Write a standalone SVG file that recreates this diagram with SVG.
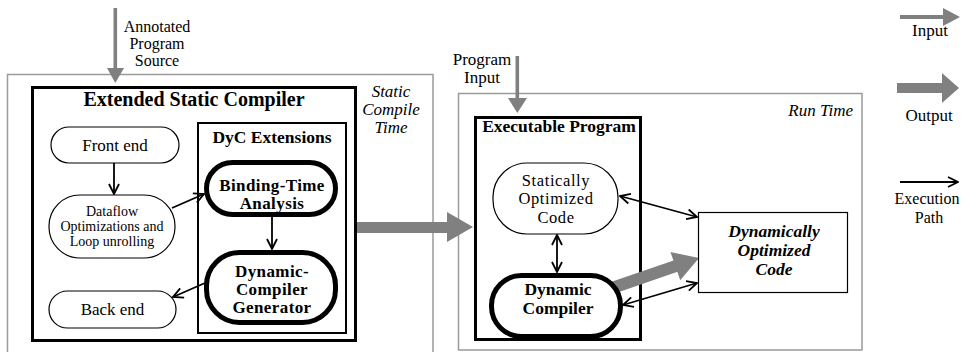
<svg xmlns="http://www.w3.org/2000/svg" width="966" height="352" viewBox="0 0 966 352">
  <defs>
    <marker id="open" viewBox="0 0 12 12" refX="11" refY="6" markerWidth="12" markerHeight="12" markerUnits="userSpaceOnUse" orient="auto-start-reverse">
      <path d="M1,1 L11,6 L1,11" fill="none" stroke="#000" stroke-width="1.8"/>
    </marker>
    <style>
      text { font-family: "Liberation Serif", "Times New Roman", serif; fill: #000; }
      .zone { fill: none; stroke: #9a9a9a; stroke-width: 1.5; }
      .frame { fill: #fff; stroke: #000; stroke-width: 3; }
      .frame2 { fill: #fff; stroke: #000; stroke-width: 2; }
      .pill { fill: #fff; stroke: #000; stroke-width: 1.2; }
      .pillB { fill: #fff; stroke: #000; stroke-width: 5; }
      .box { fill: #fff; stroke: #000; stroke-width: 1.2; }
      .flow { fill: none; stroke: #000; stroke-width: 1.8; marker-end: url(#open); }
      .flow2 { fill: none; stroke: #000; stroke-width: 1.8; marker-start: url(#open); marker-end: url(#open); }
      .gray { fill: #808080; }
      .t17 { font-size: 17px; }
      .t16 { font-size: 16px; }
      .t14 { font-size: 14px; }
      .it { font-style: italic; font-size: 17px; }
      .title { font-weight: bold; font-size: 17.5px; }
      .spaced { font-weight: bold; font-size: 17px; letter-spacing: 0.4px; }
      .spacedN { font-size: 16.5px; letter-spacing: 0.6px; }
    </style>
  </defs>

  <!-- time zones -->
  <g id="static-zone">
    <rect class="zone" x="7.5" y="74.5" width="425.5" height="290"/>
    <text class="it" text-anchor="middle" x="391" y="97">Static</text>
    <text class="it" text-anchor="middle" x="391" y="115">Compile</text>
    <text class="it" text-anchor="middle" x="391" y="133">Time</text>
  </g>
  <g id="run-zone">
    <rect class="zone" x="458.5" y="93.5" width="403.5" height="256.5"/>
    <text class="it" text-anchor="end" x="853" y="116">Run Time</text>
  </g>

  <!-- inputs -->
  <g id="source-input">
    <rect class="gray" x="113.5" y="8" width="3.6" height="61"/>
    <polygon class="gray" points="107,68 124,68 115.3,83"/>
    <text class="t16" text-anchor="middle" x="157" y="32">Annotated</text>
    <text class="t16" text-anchor="middle" x="157" y="49">Program</text>
    <text class="t16" text-anchor="middle" x="157" y="66">Source</text>
  </g>
  <g id="program-input">
    <rect class="gray" x="515.5" y="56" width="3.6" height="43"/>
    <polygon class="gray" points="508,98 527,98 517.3,113"/>
    <text class="t17" text-anchor="middle" x="482" y="65">Program</text>
    <text class="t17" text-anchor="middle" x="482" y="83">Input</text>
  </g>

  <!-- compiler -->
  <g id="extended-static-compiler">
    <rect class="frame" x="32.5" y="87.5" width="323" height="253"/>
    <text text-anchor="middle" x="194" y="106" font-weight="bold" font-size="20">Extended Static Compiler</text>
  </g>
  <g id="dyc-extensions">
    <rect class="frame2" x="198" y="123" width="148" height="210"/>
    <text class="title" text-anchor="middle" x="272" y="143">DyC Extensions</text>
  </g>
  <g id="front-end">
    <rect class="pill" x="51" y="127" width="128" height="36" rx="18"/>
    <text class="t17" text-anchor="middle" x="115" y="151" font-size="17.5">Front end</text>
  </g>
  <g id="dataflow">
    <rect class="pill" x="49" y="195" width="126" height="63" rx="31"/>
    <text class="t14" text-anchor="middle" x="112" y="216">Dataflow</text>
    <text class="t14" text-anchor="middle" x="112" y="231">Optimizations and</text>
    <text class="t14" text-anchor="middle" x="112" y="246">Loop unrolling</text>
  </g>
  <g id="back-end">
    <rect class="pill" x="49" y="291" width="127" height="37" rx="18.5"/>
    <text class="t17" text-anchor="middle" x="112.5" y="315" font-size="17.5">Back end</text>
  </g>
  <g id="binding-time">
    <rect class="pillB" x="206.5" y="162.5" width="129" height="52" rx="26"/>
    <text class="spaced" text-anchor="middle" x="272" y="191">Binding-Time</text>
    <text class="spaced" text-anchor="middle" x="272" y="209">Analysis</text>
  </g>
  <g id="compiler-generator">
    <rect class="pillB" x="206.5" y="252.5" width="129" height="70" rx="33"/>
    <text class="spaced" text-anchor="middle" x="272" y="277">Dynamic-</text>
    <text class="spaced" text-anchor="middle" x="272" y="295">Compiler</text>
    <text class="spaced" text-anchor="middle" x="272" y="313">Generator</text>
  </g>

  <!-- program at run time -->
  <g id="executable-program">
    <rect class="frame" x="475.5" y="117.5" width="165" height="222"/>
    <text class="title" text-anchor="middle" x="559" y="132">Executable Program</text>
  </g>
  <g id="dynamic-output">
    <g transform="translate(612,288) rotate(-19)">
      <rect class="gray" x="0" y="-6" width="68" height="12"/>
      <polygon class="gray" points="67,-15 67,15 92,0"/>
    </g>
  </g>
  <g id="statically-optimized">
    <rect class="pill" x="493" y="163" width="125" height="71" rx="34"/>
    <text class="spacedN" text-anchor="middle" x="556" y="186">Statically</text>
    <text class="spacedN" text-anchor="middle" x="556" y="204">Optimized</text>
    <text class="spacedN" text-anchor="middle" x="556" y="223">Code</text>
  </g>
  <g id="dynamic-compiler">
    <rect class="pillB" x="491.5" y="275.5" width="129" height="61" rx="30"/>
    <text class="title" text-anchor="middle" x="558" y="295">Dynamic</text>
    <text class="title" text-anchor="middle" x="558" y="314">Compiler</text>
  </g>
  <g id="dynamically-optimized">
    <rect class="box" x="698.5" y="212.5" width="149" height="80"/>
    <text class="title" font-style="italic" text-anchor="middle" x="774" y="237">Dynamically</text>
    <text class="title" font-style="italic" text-anchor="middle" x="774" y="256">Optimized</text>
    <text class="title" font-style="italic" text-anchor="middle" x="774" y="275">Code</text>
  </g>

  <!-- compile output into the executable -->
  <g id="compile-output">
    <rect class="gray" x="357" y="222" width="91" height="11"/>
    <polygon class="gray" points="447,212 447,242 473,227"/>
  </g>

  <!-- execution paths -->
  <g id="connectors">
    <line class="flow" x1="114" y1="163" x2="114" y2="194"/>
    <line class="flow" x1="172" y1="208" x2="204" y2="194"/>
    <line class="flow" x1="272" y1="217" x2="272" y2="249"/>
    <line class="flow" x1="205" y1="283" x2="173" y2="297"/>
    <line class="flow2" x1="620" y1="196" x2="697" y2="217"/>
    <line class="flow2" x1="557" y1="235" x2="557" y2="272"/>
    <line class="flow2" x1="623" y1="305" x2="697" y2="283"/>
  </g>

  <!-- legend -->
  <g id="legend-input">
    <rect class="gray" x="900" y="15" width="44" height="4"/>
    <polygon class="gray" points="943,8 943,26 960,17"/>
    <text class="t17" text-anchor="middle" x="930" y="36">Input</text>
  </g>
  <g id="legend-output">
    <rect class="gray" x="897" y="83" width="46" height="10"/>
    <polygon class="gray" points="942,73 942,103 959,88"/>
    <text class="t17" text-anchor="middle" x="929" y="121">Output</text>
  </g>
  <g id="legend-execution">
    <line class="flow" x1="900" y1="182" x2="958" y2="182"/>
    <text class="t16" text-anchor="middle" x="927" y="204" font-size="15.5">Execution</text>
    <text class="t16" text-anchor="middle" x="929" y="223">Path</text>
  </g>
</svg>
